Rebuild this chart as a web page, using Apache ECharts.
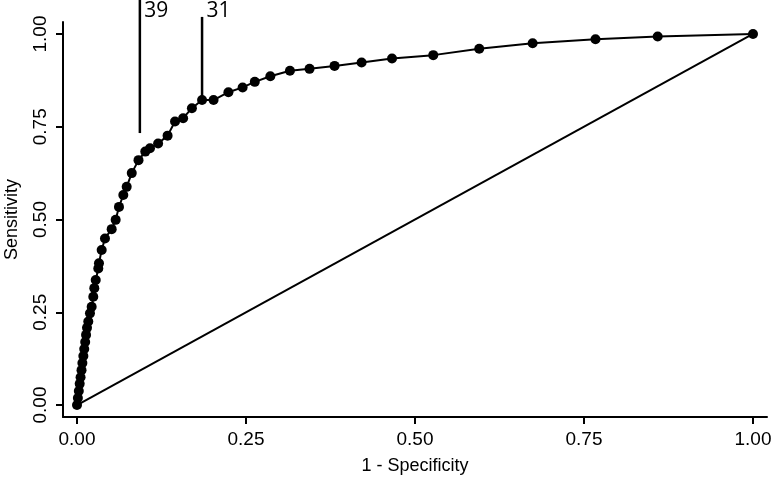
<!DOCTYPE html>
<html>
<head>
<meta charset="utf-8">
<script src="https://cdn.jsdelivr.net/npm/echarts@6/dist/echarts.min.js"></script>
<style>html,body{margin:0;padding:0;background:#fff}#c{width:774px;height:482px}</style>
</head>
<body>
<div id="c"></div>
<script>
// 1 - Specificity (false positive rate)
const fpr = [0, 0.0013, 0.0027, 0.0040, 0.0053, 0.0067, 0.0080, 0.0094, 0.0107, 0.0121, 0.0134, 0.0148, 0.0167, 0.0192, 0.0217, 0.0241, 0.0256, 0.0277, 0.0315, 0.0325, 0.0365, 0.0414, 0.0513, 0.0572, 0.0621, 0.0685, 0.0735, 0.081, 0.091, 0.101, 0.108, 0.120, 0.134, 0.145, 0.157, 0.170, 0.185, 0.202, 0.224, 0.245, 0.263, 0.286, 0.315, 0.344, 0.381, 0.421, 0.466, 0.527, 0.595, 0.674, 0.767, 0.859, 1.0];
// Sensitivity (true positive rate)
const tpr = [0, 0.019, 0.038, 0.057, 0.075, 0.094, 0.113, 0.132, 0.151, 0.170, 0.189, 0.208, 0.225, 0.247, 0.265, 0.292, 0.315, 0.337, 0.368, 0.382, 0.418, 0.449, 0.474, 0.499, 0.534, 0.566, 0.588, 0.625, 0.660, 0.683, 0.692, 0.705, 0.726, 0.764, 0.773, 0.800, 0.822, 0.822, 0.843, 0.856, 0.871, 0.886, 0.901, 0.906, 0.914, 0.923, 0.934, 0.943, 0.960, 0.975, 0.986, 0.993, 1.0];
// reference diagonal
const diagX = [0, 1];
const diagY = [0, 1];
// tick values
const xTicks = [0, 0.25, 0.5, 0.75, 1];
const yTicks = [0, 0.25, 0.5, 0.75, 1];
// cut-off annotations
const annotLabels = ['39', '31'];
const annotX = [0.093, 0.185];
const annotTop = [1.092, 1.046];
const annotBottom = [0.733, 0.822];
const annotTextY = [1.062, 1.062];

const roc = fpr.map((x, i) => [x, tpr[i]]);
const diag = diagX.map((x, i) => [x, diagY[i]]);

const series = [
  { type: 'line', data: diag, symbol: 'none', lineStyle: { color: '#000', width: 2 }, silent: true, z: 2 },
  { type: 'line', data: roc, symbol: 'circle', symbolSize: 10, clip: false,
    itemStyle: { color: '#000' }, lineStyle: { color: '#000', width: 2 }, z: 3 }
];
annotX.forEach((x, i) => {
  series.push({ type: 'line', data: [[x, annotTop[i]], [x, annotBottom[i]]], symbol: 'none', clip: false,
    lineStyle: { color: '#000', width: 2.5 }, z: 4 });
});
series.push({ type: 'scatter', clip: false, symbolSize: 1,
  itemStyle: { color: '#000', opacity: 0 },
  data: annotX.map((x, i) => ({ value: [x, annotTextY[i]], name: annotLabels[i] })),
  label: { show: true, position: 'right', distance: 4, formatter: p => p.name, opacity: 1,
    color: '#000', fontFamily: 'Open Sans', fontSize: 21 }, z: 5 });

const fmt = v => v.toFixed(2);
const chart = echarts.init(document.getElementById('c'), null, { renderer: 'canvas' });
chart.setOption({
  backgroundColor: '#fff',
  animation: false,
  grid: { left: 63, right: 7, top: 22, bottom: 65, containLabel: false, outerBoundsMode: 'none' },
  xAxis: {
    type: 'value', min: -0.0207, max: 1.0207,
    name: '1 - Specificity', nameLocation: 'middle', nameGap: 40,
    nameTextStyle: { color: '#000', fontFamily: 'Liberation Sans', fontSize: 18 },
    axisLine: { show: true, onZero: false, lineStyle: { color: '#000', width: 2 } },
    axisTick: { show: true, length: 7, lineStyle: { color: '#000', width: 2 }, customValues: xTicks },
    axisLabel: { color: '#000', fontFamily: 'Liberation Sans', fontSize: 19, margin: 13, customValues: xTicks, formatter: fmt },
    splitLine: { show: false }
  },
  yAxis: {
    type: 'value', min: -0.0323, max: 1.0323,
    name: 'Sensitivity', nameLocation: 'middle', nameGap: 42,
    nameTextStyle: { color: '#000', fontFamily: 'Liberation Sans', fontSize: 18 },
    axisLine: { show: true, onZero: false, lineStyle: { color: '#000', width: 2 } },
    axisTick: { show: true, length: 7, lineStyle: { color: '#000', width: 2 }, customValues: yTicks },
    axisLabel: { color: '#000', fontFamily: 'Liberation Sans', fontSize: 19, margin: 13, rotate: 90, customValues: yTicks, formatter: fmt },
    splitLine: { show: false }
  },
  series: series
});
</script>
</body>
</html>
